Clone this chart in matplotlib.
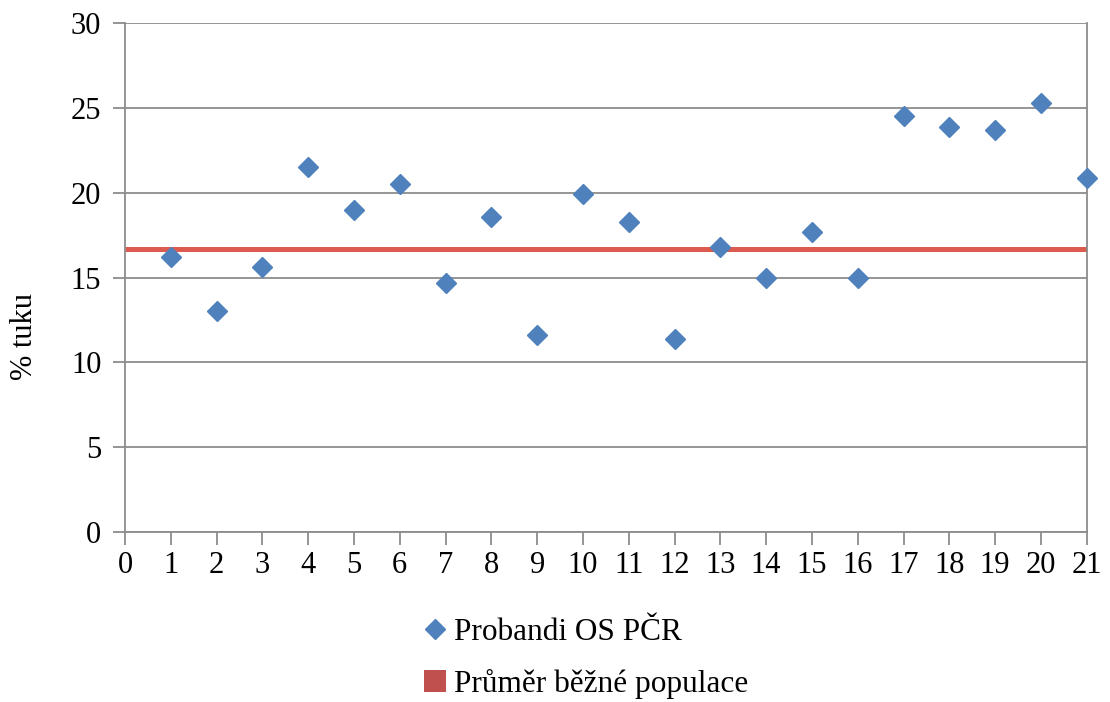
import matplotlib.pyplot as plt
from matplotlib.lines import Line2D
from matplotlib.patches import Patch

# data
probandi = list(range(1, 22))
tuk = [16.2, 13.0, 15.6, 21.5, 19.0, 20.5, 14.7, 18.6, 11.6, 19.9, 18.3,
       11.4, 16.8, 15.0, 17.7, 15.0, 24.5, 23.9, 23.7, 25.3, 20.9]
prumer = 16.7
x_ticks = list(range(0, 22))
y_ticks = [0, 5, 10, 15, 20, 25, 30]

plt.rcParams['font.family'] = ['Liberation Serif', 'DejaVu Serif']
grey = '#8c8c8c'
blue = '#4F81BD'
red = '#DD5A4E'

fig = plt.figure(figsize=(11.1, 7.02), dpi=100)
ax = fig.add_axes([0.1126, 0.2422, 0.8664, 0.7248])

ax.plot([0, 21], [prumer, prumer], color=red, lw=3.6, zorder=2,
        solid_capstyle='butt')
ax.plot(probandi, tuk, linestyle='none', marker='D', ms=10.5,
        color=blue, mec=blue, zorder=3, clip_on=False)

ax.set_xlim(0, 21)
ax.set_ylim(0, 30)
ax.set_xticks(x_ticks)
ax.set_yticks(y_ticks)
ax.yaxis.grid(True, color=grey, lw=1.3)
ax.set_axisbelow(True)
for s in ['left', 'bottom', 'right']:
    ax.spines[s].set_color(grey)
    ax.spines[s].set_linewidth(1.3)
ax.spines['top'].set_visible(False)
ax.tick_params(axis='both', colors=grey, width=1.3, length=9,
               labelsize=22, labelcolor='black')
ax.tick_params(axis='x', pad=5)
ax.tick_params(axis='y', pad=8)

# y label sits lower than the axis centre, as in the original
fig.text(0.022, 0.52, '% tuku', fontsize=22, rotation=90,
         ha='center', va='center')

handles = [Line2D([], [], linestyle='none', marker='D', ms=10, color=blue),
           Patch(facecolor='#C0504D', edgecolor='none')]
fig.legend(handles, ['Probandi OS PČR', 'Průměr běžné populace'],
           loc='center', bbox_to_anchor=(0.528, 0.062), frameon=False,
           fontsize=22.5, handlelength=0.7, handletextpad=0.25,
           labelspacing=0.72, handleheight=0.7)

fig.savefig('out.png', dpi=100)
